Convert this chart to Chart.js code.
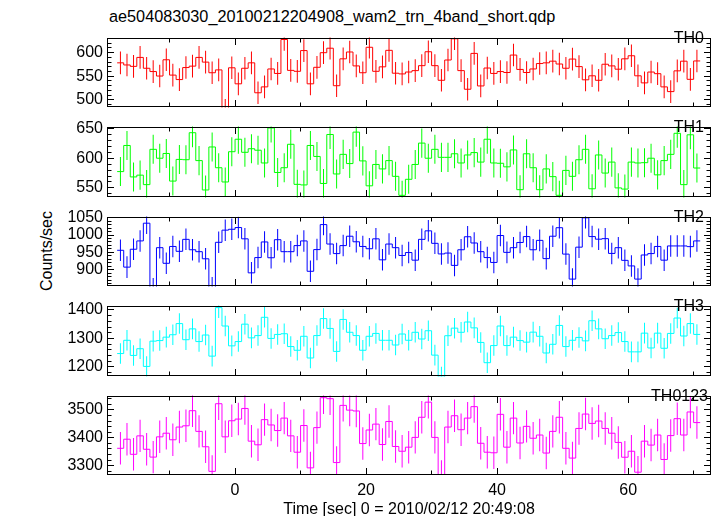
<!DOCTYPE html>
<html><head><meta charset="utf-8">
<script src="https://cdn.jsdelivr.net/npm/chart.js@4/dist/chart.umd.min.js"></script>
<style>
html,body{margin:0;padding:0;background:#fff;}
#wrap{position:relative;width:717px;height:516px;overflow:hidden;background:#fff;font-family:"Liberation Sans",Arial,Helvetica,sans-serif;}
#wrap canvas{position:absolute;left:0;}
.txt{position:absolute;white-space:nowrap;color:#000;font-size:16px;line-height:16px;}
</style></head><body>
<div id="wrap"></div>
<script>
// ---------------- data ----------------
const TITLE = 'ae504083030_20100212204908_wam2_trn_4band_short.qdp';
const X_TITLE = 'Time [sec] 0 = 2010/02/12 20:49:08';
const Y_TITLE = 'Counts/sec';
const BIN = 1;
const TIME = [-17.5,-16.5,-15.5,-14.5,-13.5,-12.5,-11.5,-10.5,-9.5,-8.5,-7.5,-6.5,-5.5,-4.5,-3.5,-2.5,-1.5,-0.5,
  0.5,1.5,2.5,3.5,4.5,5.5,6.5,7.5,8.5,9.5,10.5,11.5,12.5,13.5,14.5,15.5,16.5,17.5,18.5,19.5,
  20.5,21.5,22.5,23.5,24.5,25.5,26.5,27.5,28.5,29.5,30.5,31.5,32.5,33.5,34.5,35.5,36.5,37.5,38.5,39.5,
  40.5,41.5,42.5,43.5,44.5,45.5,46.5,47.5,48.5,49.5,50.5,51.5,52.5,53.5,54.5,55.5,56.5,57.5,58.5,59.5,
  60.5,61.5,62.5,63.5,64.5,65.5,66.5,67.5,68.5,69.5,70.5];
const TH0 = [578.5,574,571,590,567,560,550.5,585,552.5,543,568.5,571.5,590,580,557.5,563.5,478,568,534,567,578.5,515,527.5,565.5,556,628,562.5,560.5,604.5,534,569,600,609.5,530,587,601.5,572,557.5,611.5,560.5,570,605,556.5,555,559,
  562,572.5,602,572.5,541.5,584.5,629.5,562,522.5,598.5,529.5,567.5,556,560,558,595,564.5,558,565.5,577,578.5,582,576,567,586.5,570.5,542.5,551,541.5,575.5,572,565,587,593.5,551,536,559,555.5,527.5,517.5,561.5,582,543.5,582.5];
const TH1 = [577.5,621.5,568.5,571.5,555.5,615,600,608,561.5,598,597.5,643,596,546.5,619,584,560,611,632,610,616,613.5,592,651,576,584,623.5,556,555,621.5,603,557.5,640,573.5,606.5,591,644,595.5,553.5,589.5,582,596,569.5,537.5,564.5,
  589.5,625.5,600,615,601.5,601.5,607.5,592,605.5,609.5,593.5,632,592,591.5,585.5,614,547,607.5,584,547,582,569,537.5,579.5,569.5,597.5,615,548.5,605.5,575,593.5,550,548,593.5,592,592.5,600,572,596,606.5,642,555.5,639.5,583.5];
const TH2 = [956,907.5,959,983,1034,845,963.5,918.5,967,953,987.5,957.5,952,931.5,848,979,1014,1016.5,1021.5,989,891,935,980,934.5,986.5,952,952,969.5,983,895.5,958,1030,974,946.5,969.5,996.5,980.5,967,960.5,989,928.5,974,963.5,941,949.5,
  927.5,987.5,1012,976,945.5,948,912.5,957.5,995,977,952,935,921,998.5,950,963.5,978.5,995.5,957.5,984.5,932,996.5,1021,945,873,965,1049.5,995.5,988,989.5,947,963.5,927,911,873,942.5,946.5,967,927.5,968.5,968.5,968.5,966.5,983];
const TH3 = [1247,1293.5,1240.5,1264,1202,1290.5,1292.5,1304.5,1313,1352,1295.5,1333.5,1289,1312,1238,1408,1343.5,1274,1289,1350,1302,1310,1374,1300,1314,1316.5,1271.5,1258.5,1307.5,1231.5,1310,1369.5,1335,1254.5,1366.5,1321.5,1310,1258.5,1307.5,1317.5,1293.5,1293.5,1277,1315.5,1293.5,
  1321.5,1298,1327,1241.5,1165,1309.5,1336,1321.5,1357.5,1337,1286,1215,1275,1343.5,1275,1304.5,1292.5,1287,1322,1307.5,1249,1279.5,1345.5,1271.5,1293.5,1303.5,1291.5,1362,1333.5,1299,1310,1320.5,1289,1253,1253,1318.5,1266.5,1318.5,1265.5,1317.5,1371.5,1308.5,1352,1314];
const TH0123 = [3362.5,3395,3341,3407,3359,3331,3403.5,3416.5,3393,3438.5,3443,3497,3423,3368,3280,3522,3403.5,3461,3467,3505,3388,3375,3465,3446,3426,3470.5,3407,3348.5,3444,3292.5,3436.5,3543.5,3540,3311.5,3516,3499,3496,3379.5,3428,3449,3376,3458.5,3369,3352,3366.5,
  3401.5,3473.5,3527.5,3401.5,3262,3438.5,3479,3429,3470.5,3511.5,3380.5,3348.5,3346.5,3484,3366.5,3470.5,3381.5,3441,3398.5,3410,3345.5,3423,3473.5,3362.5,3327.5,3433.5,3485,3451.5,3460,3433.5,3416.5,3383.5,3330.5,3352,3277,3388,3374,3410,3322.5,3408,3468.5,3410,3492.5,3454.5];
// 1-sigma error per bin (nearly constant within each band)
const ERR_TH0 = 24, ERR_TH1 = 24.5, ERR_TH2 = 31, ERR_TH3 = 36, ERR_TH0123 = 58;
// axis ticks
const X_MIN = -19.55, X_MAX = 72.65;
const X_TICK_LABELS = [0, 20, 40, 60];
const X_MINOR_TICKS = [-10, 10, 30, 50, 70];
const Y_TICKS_TH0 = [500, 550, 600];
const Y_TICKS_TH1 = [550, 600, 650];
const Y_TICKS_TH2 = [900, 950, 1000, 1050];
const Y_TICKS_TH3 = [1200, 1300, 1400];
const Y_TICKS_TH0123 = [3300, 3400, 3500];

// ---------------- layout / style ----------------
const FONT = '"Liberation Sans", Arial, Helvetica, sans-serif';
const GEOM = { left:107, right:711, tops:[28,117,207,296,386,475], pad:4, xAxisH:41, W:717, H:516,
  majorLen:6.5, minorLen:4 };
const PANELS = [
  {name:'TH0',    values:TH0,    err:ERR_TH0,    color:'#ff0000', yMin:484,  yMax:632,    major:Y_TICKS_TH0,    minorStep:10, labelRight:704},
  {name:'TH1',    values:TH1,    err:ERR_TH1,    color:'#00ff00', yMin:534,  yMax:653.3,  major:Y_TICKS_TH1,    minorStep:10, labelRight:704},
  {name:'TH2',    values:TH2,    err:ERR_TH2,    color:'#0000ff', yMin:852,  yMax:1053,   major:Y_TICKS_TH2,    minorStep:10, labelRight:704},
  {name:'TH3',    values:TH3,    err:ERR_TH3,    color:'#00ffff', yMin:1167, yMax:1415,   major:Y_TICKS_TH3,    minorStep:20, labelRight:704},
  {name:'TH0123', values:TH0123, err:ERR_TH0123, color:'#ff00ff', yMin:3267, yMax:3551,   major:Y_TICKS_TH0123, minorStep:20, labelRight:708}
];

const wrap = document.getElementById('wrap');
function addText(text, css) {
  const d = document.createElement('div');
  d.className = 'txt'; d.textContent = text;
  Object.assign(d.style, css);
  wrap.appendChild(d);
  return d;
}
addText(TITLE, {left:'109px', top:'7.5px', fontSize:'16.25px'});
addText(Y_TITLE, {left:'47px', top:'251px', transform:'translate(-50%,-50%) rotate(-90deg)'});

const framePlugin = {
  id: 'qdpFrame',
  afterDraw(chart, args, opts) {
    const {ctx, chartArea:a, scales} = chart;
    const xs = scales.x, ys = scales.y;
    const L = Math.round(a.left) + 0.5, R = Math.round(a.right) - 0.5;
    const T = Math.round(a.top) + 0.5, B = Math.round(a.bottom) - 0.5;
    ctx.save();
    ctx.strokeStyle = '#000'; ctx.lineWidth = 1;
    ctx.beginPath();
    const xt = X_TICK_LABELS.map(v => [v, GEOM.majorLen]).concat(X_MINOR_TICKS.map(v => [v, GEOM.minorLen]));
    for (const [v, len] of xt) {
      const px = Math.round(xs.getPixelForValue(v) - 0.5) + 0.5;
      ctx.moveTo(px, T); ctx.lineTo(px, T + len);
      ctx.moveTo(px, B); ctx.lineTo(px, B - len);
    }
    const step = opts.minorStep;
    for (let v = Math.ceil(ys.min / step) * step; v <= ys.max; v += step) {
      const len = opts.major.includes(v) ? GEOM.majorLen : GEOM.minorLen;
      const py = Math.round(ys.getPixelForValue(v) - 0.5) + 0.5;
      ctx.moveTo(L, py); ctx.lineTo(L + len, py);
      ctx.moveTo(R, py); ctx.lineTo(R - len, py);
    }
    ctx.stroke();
    ctx.strokeRect(L, T, R - L, B - T);
    ctx.restore();
  }
};

PANELS.forEach((p, i) => {
  const isLast = i === PANELS.length - 1;
  const top = GEOM.tops[i], bot = GEOM.tops[i + 1];
  const cTop = top - GEOM.pad;
  const cH = isLast ? (GEOM.H - cTop) : (bot - top + 2 * GEOM.pad);
  const canvas = document.createElement('canvas');
  canvas.width = GEOM.W; canvas.height = cH;
  canvas.style.top = cTop + 'px';
  canvas.style.width = GEOM.W + 'px'; canvas.style.height = cH + 'px';
  wrap.appendChild(canvas);

  const steps = p.values.map((v, k) => ({x: TIME[k] - BIN / 2, y: v}));
  steps.push({x: TIME[TIME.length - 1] + BIN / 2, y: p.values[p.values.length - 1]});
  const bars = p.values.map((v, k) => ({x: TIME[k], y: [v - p.err, v + p.err]}));

  new Chart(canvas, {
    type: 'line',
    data: {datasets: [
      {type:'line', data:steps, borderColor:p.color, borderWidth:1, stepped:'before', pointRadius:0, fill:false, tension:0},
      {type:'bar', data:bars, backgroundColor:p.color, borderWidth:0, barThickness:1, inflateAmount:0}
    ]},
    options: {
      responsive:false, animation:false, devicePixelRatio:1, events:[],
      layout: {padding: {left:0, right:GEOM.W - GEOM.right, top:GEOM.pad, bottom: isLast ? 0 : GEOM.pad}},
      plugins: {legend:{display:false}, tooltip:{enabled:false}, title:{display:false},
        qdpFrame: {major:p.major, minorStep:p.minorStep}},
      scales: {
        x: {type:'linear', min:X_MIN, max:X_MAX, offset:false, display:isLast,
          grid:{display:false, drawTicks:false}, border:{display:false},
          ticks:{autoSkip:false, maxRotation:0, color:'#000', font:{family:FONT, size:16}, padding:6,
                 callback: v => String(v)},
          afterBuildTicks: s => { s.ticks = X_TICK_LABELS.map(v => ({value:v})); },
          afterFit: s => { if (isLast) s.height = GEOM.xAxisH; },
          title:{display:isLast, text:X_TITLE, color:'#000', font:{family:FONT, size:16}, padding:{top:0, bottom:-3.5}}},
        y: {type:'linear', min:p.yMin, max:p.yMax,
          grid:{display:false, drawTicks:false}, border:{display:false},
          ticks:{autoSkip:false, color:'#000', font:{family:FONT, size:16}, padding:4,
                 callback: v => String(v)},
          afterBuildTicks: s => { s.ticks = p.major.map(v => ({value:v})); },
          afterFit: s => { s.width = GEOM.left; }}
      }
    },
    plugins: [framePlugin]
  });
  addText(p.name, {right:(GEOM.W - p.labelRight) + 'px', top:(top + 1.5) + 'px'});
});
</script>
</body></html>
